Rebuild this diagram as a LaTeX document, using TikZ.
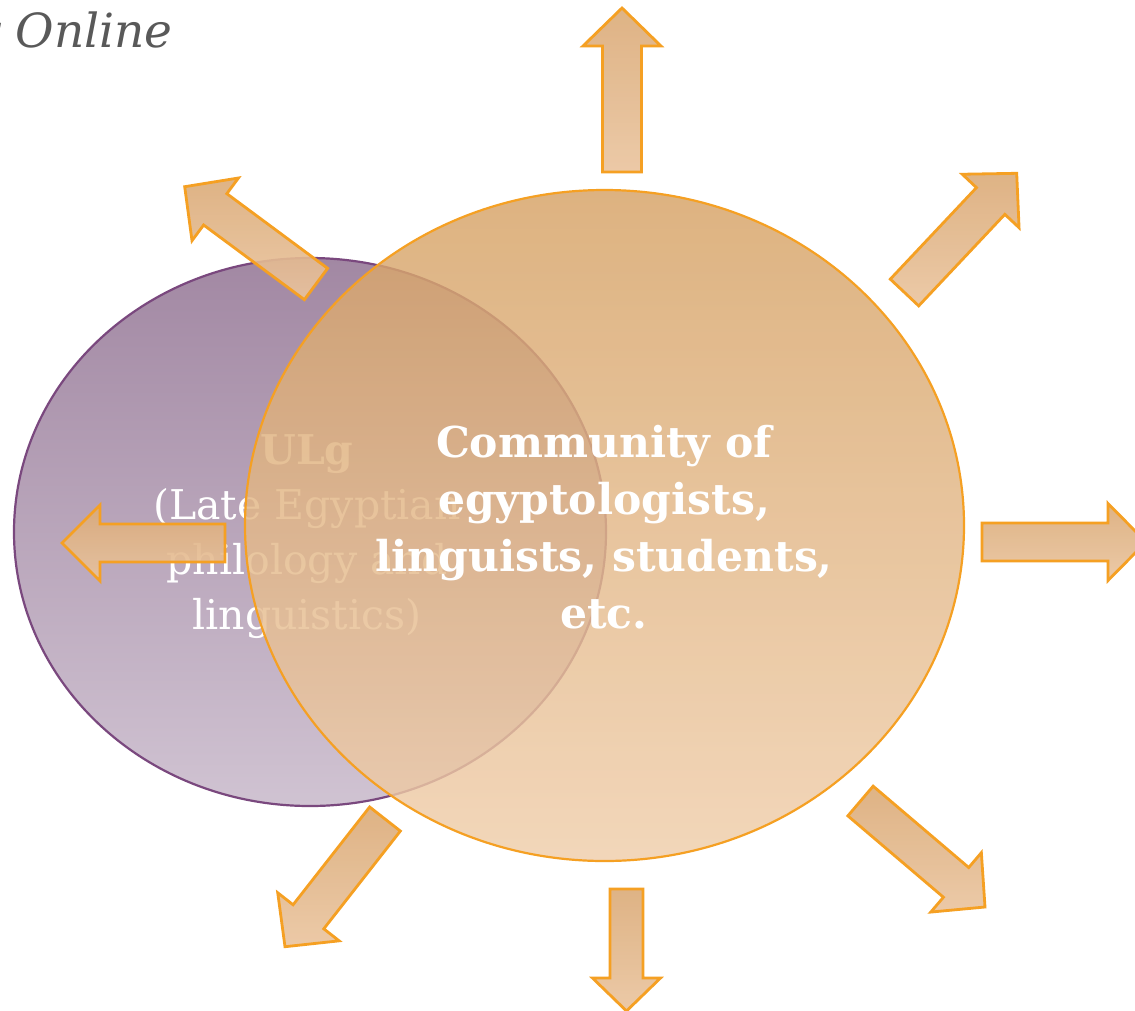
\documentclass[tikz,border=0pt]{standalone}
\usepackage{fontspec}
\setmainfont{DejaVu Serif}
\usetikzlibrary{calc}

\definecolor{titlegray}{HTML}{595959}
\definecolor{plumtop}{HTML}{A288A3}
\definecolor{plumbot}{HTML}{D0C3D2}
\definecolor{plumline}{HTML}{7A487E}
\definecolor{ambertop}{HTML}{D6A265}
\definecolor{amberbot}{HTML}{F0CEAB}
\definecolor{amberline}{HTML}{F5A023}
\definecolor{tantop}{HTML}{DBAB78}
\definecolor{tanbot}{HTML}{EAC49E}

\tikzset{
  plumdisc/.style={top color=plumtop, bottom color=plumbot, draw=plumline, line width=2.2pt},
  amberdisc/.style={top color=ambertop, bottom color=amberbot, draw=amberline, line width=2.2pt, fill opacity=0.82},
  arrowbox/.style={top color=tantop, bottom color=tanbot, draw=amberline, line width=2.8pt, line join=miter, fill opacity=0.9},
  whitetext/.style={text=white, align=center, inner sep=0pt},
}

% block arrow: name, tail midpoint, tip, half shaft width, half head width, head length
\newcommand\blockarrow[6]{%
  \coordinate (#1-tail) at (#2);
  \coordinate (#1-tip) at (#3);
  \coordinate (#1-hb) at ($(#1-tip)!#6pt!(#1-tail)$);
  \path[arrowbox]
    ($(#1-tail)!#4pt!90:(#1-tip)$) --
    ($(#1-hb)!#4pt!90:(#1-tip)$) --
    ($(#1-hb)!#5pt!90:(#1-tip)$) --
    (#1-tip) --
    ($(#1-hb)!#5pt!-90:(#1-tip)$) --
    ($(#1-hb)!#4pt!-90:(#1-tip)$) --
    ($(#1-tail)!#4pt!-90:(#1-tip)$) -- cycle;
}

\begin{document}
\begin{tikzpicture}[x=1pt, y=-1pt]
  \useasboundingbox (0,0) rectangle (1135,1010);
  \fill[white] (0,0) rectangle (1135,1010);

  % heading fragment
  \node[font=\itshape\fontsize{47}{50}\selectfont, text=titlegray, anchor=base east, inner sep=0pt]
    (title) at (173,47) {y Online};

  % ULg circle and its label
  \path[plumdisc] (310,532) ellipse [x radius=296, y radius=274];
  \node[whitetext, font=\fontsize{41}{55}\selectfont] (ulg) at (307,537)
    {\textbf{ULg}\\(Late Egyptian\\philology and\\linguistics)};

  % community circle and its label
  \path[amberdisc] (604.5,525.5) ellipse [x radius=359.5, y radius=335.5];
  \node[whitetext, font=\bfseries\fontsize{42.5}{57}\selectfont] (community) at (604,527)
    {Community of\\egyptologists,\\linguists, students,\\etc.};

  % outgoing arrows
  \blockarrow{up}{622,172}{622,8}{19.5}{39}{38}
  \blockarrow{ne}{904.5,292.5}{1016.7,173.3}{19.5}{39}{38}
  \blockarrow{east}{982,542}{1146,542}{19}{38.5}{38}
  \blockarrow{se}{860.5,801}{985,907}{19.5}{39}{38}
  \blockarrow{down}{626.5,889}{626.5,1011}{16.5}{34}{33}
  \blockarrow{sw}{385,819}{285,946.7}{19.5}{39}{38}
  \blockarrow{west}{225,543}{62,543}{19}{38}{38}
  \blockarrow{nw}{316,284}{184.7,186.7}{19.5}{39}{38}
\end{tikzpicture}
\end{document}
